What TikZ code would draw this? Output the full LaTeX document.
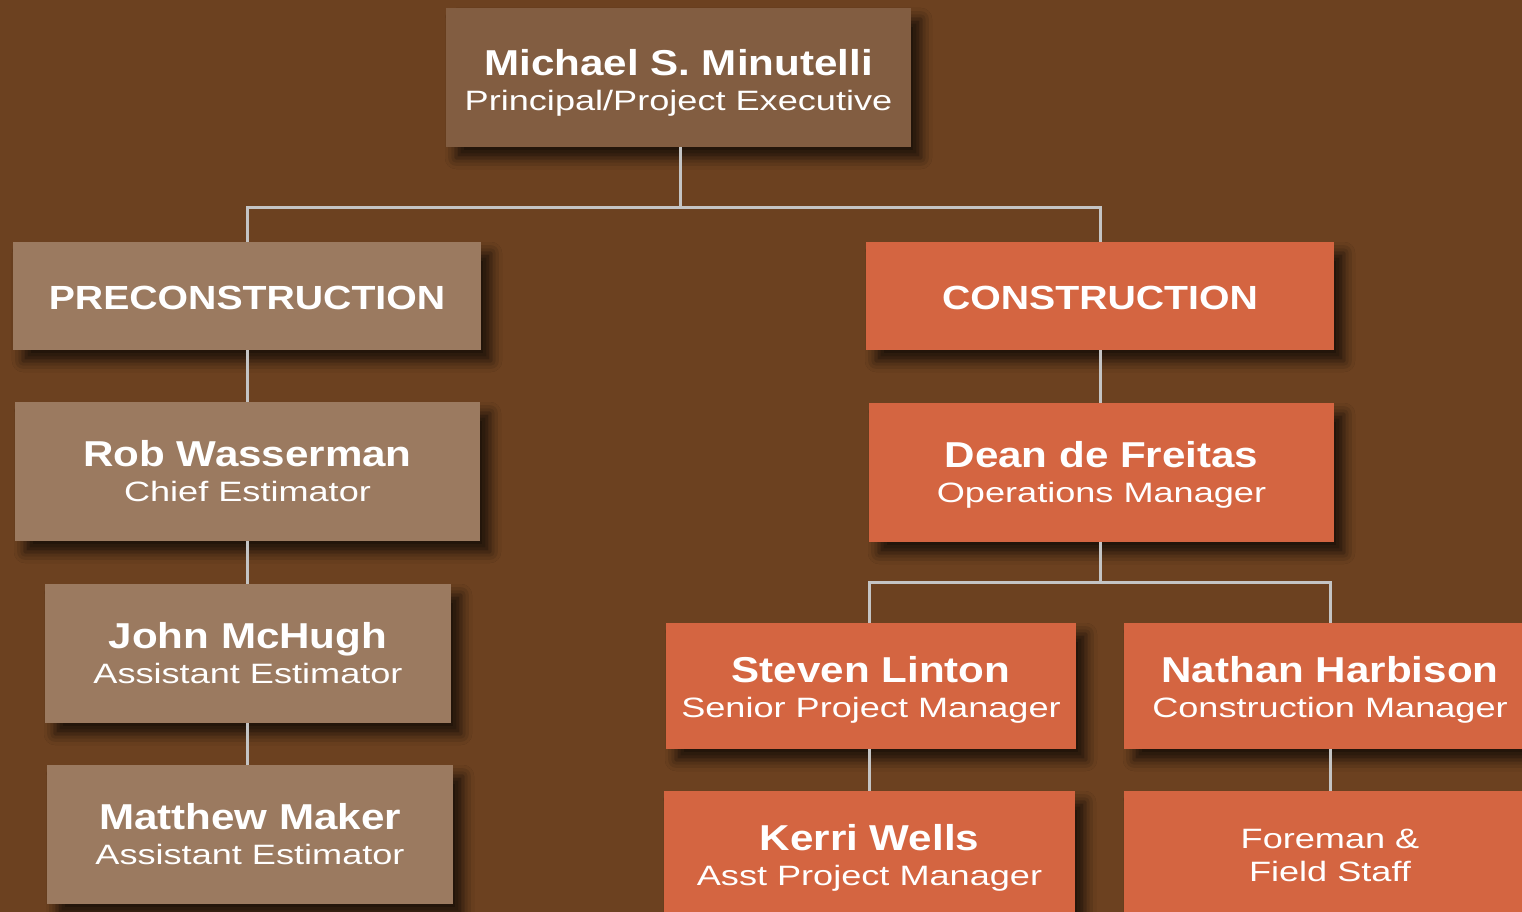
\documentclass[tikz,border=0pt]{standalone}
\usepackage{fontspec}
\setmainfont{Liberation Sans}
\newfontfamily\orgnamefont{Liberation Sans}[FakeStretch=1.17]
\newfontfamily\orgtitlefont{Liberation Sans}[FakeStretch=1.29]
\usetikzlibrary{shadows.blur}
\definecolor{bgbrown}{RGB}{108,65,32}
\definecolor{topbrown}{RGB}{130,93,65}
\definecolor{tanbox}{RGB}{155,122,96}
\definecolor{orangebox}{RGB}{212,101,65}
\definecolor{linkgrey}{RGB}{196,196,196}
\newcommand\orgname[1]{{\orgnamefont\bfseries\fontsize{36}{36}\selectfont #1}}
\newcommand\orgtitle[1]{{\orgtitlefont\fontsize{28}{35}\selectfont #1}}
\begin{document}
\begin{tikzpicture}[x=1pt,y=-1pt,
  orgbox/.style={rectangle,inner sep=0pt,
    blur shadow={shadow xshift=10pt,shadow yshift=-11pt,shadow blur radius=11pt,shadow opacity=72}},
  orgtext/.style={inner sep=0pt,text=white,align=center,
    font=\orgtitlefont\fontsize{28}{35}\selectfont},
  tanstyle/.style={orgbox,fill=tanbox},
  orangestyle/.style={orgbox,fill=orangebox},
  link/.style={draw=linkgrey,line width=3pt}]
\fill[bgbrown] (0,0) rectangle (1522,912);
\useasboundingbox (0,0) rectangle (1522,912);

% boxes
\node[orgbox,fill=topbrown,minimum width=465pt,minimum height=139pt] (top) at (678.5,77.5) {};
\node[tanstyle,minimum width=468pt,minimum height=108pt] (pre) at (247,296) {};
\node[tanstyle,minimum width=465pt,minimum height=139pt] (rob) at (247.5,471.5) {};
\node[tanstyle,minimum width=406pt,minimum height=139pt] (john) at (248,653.5) {};
\node[tanstyle,minimum width=406pt,minimum height=139pt] (matt) at (250,834.5) {};
\node[orangestyle,minimum width=468pt,minimum height=108pt] (con) at (1100,296) {};
\node[orangestyle,minimum width=465pt,minimum height=139pt] (dean) at (1101.5,472.5) {};
\node[orangestyle,minimum width=410pt,minimum height=126pt] (steven) at (871,686) {};
\node[orangestyle,minimum width=412pt,minimum height=126pt] (nathan) at (1330,686) {};
\node[orangestyle,minimum width=411pt,minimum height=139pt] (kerri) at (869.5,860.5) {};
\node[orangestyle,minimum width=412pt,minimum height=139pt] (fore) at (1330,860.5) {};

% texts
\node[orgtext] (topt) at ([yshift=-5pt]top.center)
  {\orgname{Michael S. Minutelli}\\\orgtitle{Principal/Project Executive}};
\node[orgtext] (pret) at ([yshift=-2pt]pre.center)
  {\orgnamefont\bfseries\fontsize{33.5}{36}\selectfont PRECONSTRUCTION};
\node[orgtext] (robt) at (rob.center)
  {\orgname{Rob Wasserman}\\\orgtitle{Chief Estimator}};
\node[orgtext] (johnt) at (john.center)
  {\orgname{John McHugh}\\\orgtitle{Assistant Estimator}};
\node[orgtext] (mattt) at (matt.center)
  {\orgname{Matthew Maker}\\\orgtitle{Assistant Estimator}};
\node[orgtext] (cont) at ([yshift=-2pt]con.center)
  {\orgnamefont\bfseries\fontsize{33.5}{36}\selectfont CONSTRUCTION};
\node[orgtext] (deant) at ([yshift=-2pt]dean.center)
  {\orgname{Dean de Freitas}\\\orgtitle{Operations Manager}};
\node[orgtext] (stevent) at ([yshift=-4pt]steven.center)
  {\orgname{Steven Linton}\\\orgtitle{Senior Project Manager}};
\node[orgtext] (nathant) at ([yshift=-4pt]nathan.center)
  {\orgname{Nathan Harbison}\\\orgtitle{Construction Manager}};
\node[orgtext] (kerrit) at ([yshift=3pt]kerri.center)
  {\orgname{Kerri Wells}\\\orgtitle{Asst Project Manager}};
\node[orgtext,font=\orgtitlefont\fontsize{28}{33}\selectfont] (foret) at ([yshift=5pt]fore.center)
  {Foreman \&\\Field Staff};

% connectors
\coordinate (j1) at (680,207);
\coordinate (j2) at (1100,582);
\coordinate (j3) at (869,623);
\draw[link] (top.south -| j1) -- (j1) -| (pre.north);
\draw[link] (j1) -| (con.north);
\draw[link] (pre.south) -- (pre.south |- rob.north);
\draw[link] (rob.south) -- (rob.south |- john.north);
\draw[link] (rob.south |- john.south) -- (rob.south |- matt.north);
\draw[link] (con.south) -- (con.south |- dean.north);
\draw[link] (dean.south -| j2) -- (j2) -| (j3);
\draw[link] (j2) -| (nathan.north);
\draw[link] (kerri.north |- steven.south) -- (kerri.north);
\draw[link] (nathan.south) -- (fore.north);
\end{tikzpicture}
\end{document}
